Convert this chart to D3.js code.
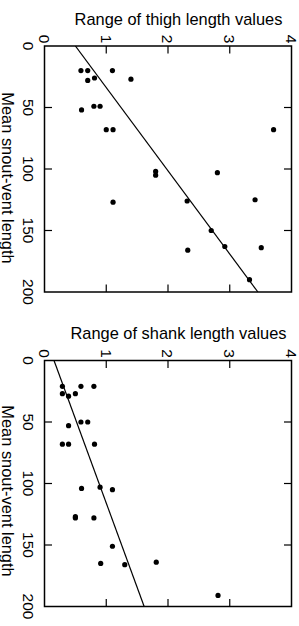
<!DOCTYPE html>
<html>
<head>
<meta charset="utf-8">
<script src="https://cdn.jsdelivr.net/npm/d3@7"></script>
<style>
  html, body { margin: 0; padding: 0; background: #fff; }
  svg { display: block; }
  text { font-family: "Liberation Sans", Arial, Helvetica, sans-serif; fill: #000; }
</style>
</head>
<body>
<svg id="chart" width="299" height="626"></svg>
<script>
// ---- data ----
const rangeTicks = [0, 1, 2, 3, 4];
const svlTicks = [0, 50, 100, 150, 200];
const panelTitles = ["Range of thigh length values", "Range of shank length values"];
const svlAxisTitle = "Mean snout-vent length";

const thighSVL   = [20, 20, 20, 26, 28, 27, 52, 49, 49, 68, 68, 68, 102, 105, 103, 127, 126, 125, 150, 163, 166, 164, 190];
const thighRange = [0.59, 0.70, 1.10, 0.81, 0.70, 1.40, 0.60, 0.80, 0.90, 1.00, 1.11, 3.71, 1.80, 1.80, 2.80, 1.11, 2.31, 3.41, 2.70, 2.92, 2.32, 3.51, 3.32];

const shankSVL   = [21, 21, 21, 27, 27, 29, 50, 50, 53, 68, 68, 68, 104, 103, 105, 127, 128, 128, 151, 165, 166, 164, 191];
const shankRange = [0.29, 0.59, 0.80, 0.29, 0.50, 0.39, 0.59, 0.70, 0.39, 0.29, 0.39, 0.81, 0.60, 0.90, 1.10, 0.50, 0.50, 0.80, 1.10, 0.91, 1.30, 1.81, 2.81];

// regression fits: [intercept, slope] (range = a + b * svl)
const thighFit = [0.50, 0.01478];
const shankFit = [0.154, 0.0073];

// ---- drawing ----
const svg = d3.select("#chart");
const panels = [
  { title: panelTitles[0], svl: thighSVL, range: thighRange, fit: thighFit, top: 46, bottom: 292, titleY: 25, axTitleY: 178 },
  { title: panelTitles[1], svl: shankSVL, range: shankRange, fit: shankFit, top: 360.5, bottom: 606.5, titleY: 339, axTitleY: 491 }
];
const left = 44.5, right = 291.5, tickLen = 7.5;

panels.forEach((p, i) => {
  const x = d3.scaleLinear().domain([0, 4]).range([left, right]);
  const y = d3.scaleLinear().domain([0, 200]).range([p.top, p.bottom]);
  const g = svg.append("g");

  g.append("text").attr("x", 178.5).attr("y", p.titleY)
    .attr("text-anchor", "middle").style("font-size", "16.4px").text(p.title);

  g.append("text")
    .attr("transform", `translate(1.5,${p.axTitleY}) rotate(90)`)
    .attr("text-anchor", "middle").style("font-size", "16.4px").text(svlAxisTitle);

  const cid = "clip" + i;
  svg.append("clipPath").attr("id", cid).append("rect")
    .attr("x", left).attr("y", p.top).attr("width", right - left).attr("height", p.bottom - p.top);

  const innerR = rangeTicks.filter(t => t > 0 && t < 4);
  const innerS = svlTicks.filter(t => t > 0 && t < 200);
  innerR.forEach(t => {
    g.append("line").attr("x1", x(t)).attr("x2", x(t)).attr("y1", p.top).attr("y2", p.top + tickLen)
      .attr("stroke", "#000").attr("stroke-width", 1.2);
    g.append("line").attr("x1", x(t)).attr("x2", x(t)).attr("y1", p.bottom).attr("y2", p.bottom - tickLen)
      .attr("stroke", "#000").attr("stroke-width", 1.2);
  });
  innerS.forEach(t => {
    g.append("line").attr("x1", left).attr("x2", left + tickLen).attr("y1", y(t)).attr("y2", y(t))
      .attr("stroke", "#000").attr("stroke-width", 1.2);
    g.append("line").attr("x1", right).attr("x2", right - tickLen).attr("y1", y(t)).attr("y2", y(t))
      .attr("stroke", "#000").attr("stroke-width", 1.2);
  });

  rangeTicks.forEach(t => {
    g.append("text")
      .attr("transform", `translate(${x(t)},${p.top - 7}) rotate(90)`)
      .attr("text-anchor", "middle").attr("dy", "0.36em").style("font-size", "15.5px").text(t);
  });
  svlTicks.forEach(t => {
    g.append("text")
      .attr("transform", `translate(28.5,${y(t)}) rotate(90)`)
      .attr("text-anchor", "middle").attr("dy", "0.36em").style("font-size", "15.5px").text(t);
  });

  g.append("rect").attr("x", left).attr("y", p.top).attr("width", right - left).attr("height", p.bottom - p.top)
    .attr("fill", "none").attr("stroke", "#000").attr("stroke-width", 1.5);

  g.append("line").attr("clip-path", `url(#${cid})`)
    .attr("x1", x(p.fit[0] + p.fit[1] * 0)).attr("y1", y(0))
    .attr("x2", x(p.fit[0] + p.fit[1] * 200)).attr("y2", y(200))
    .attr("stroke", "#000").attr("stroke-width", 1.2);

  g.selectAll("circle.pt").data(p.svl.map((s, k) => [s, p.range[k]])).enter()
    .append("circle").attr("class", "pt")
    .attr("cx", d => x(d[1])).attr("cy", d => y(d[0])).attr("r", 2.6).attr("fill", "#000");
});
</script>
</body>
</html>
